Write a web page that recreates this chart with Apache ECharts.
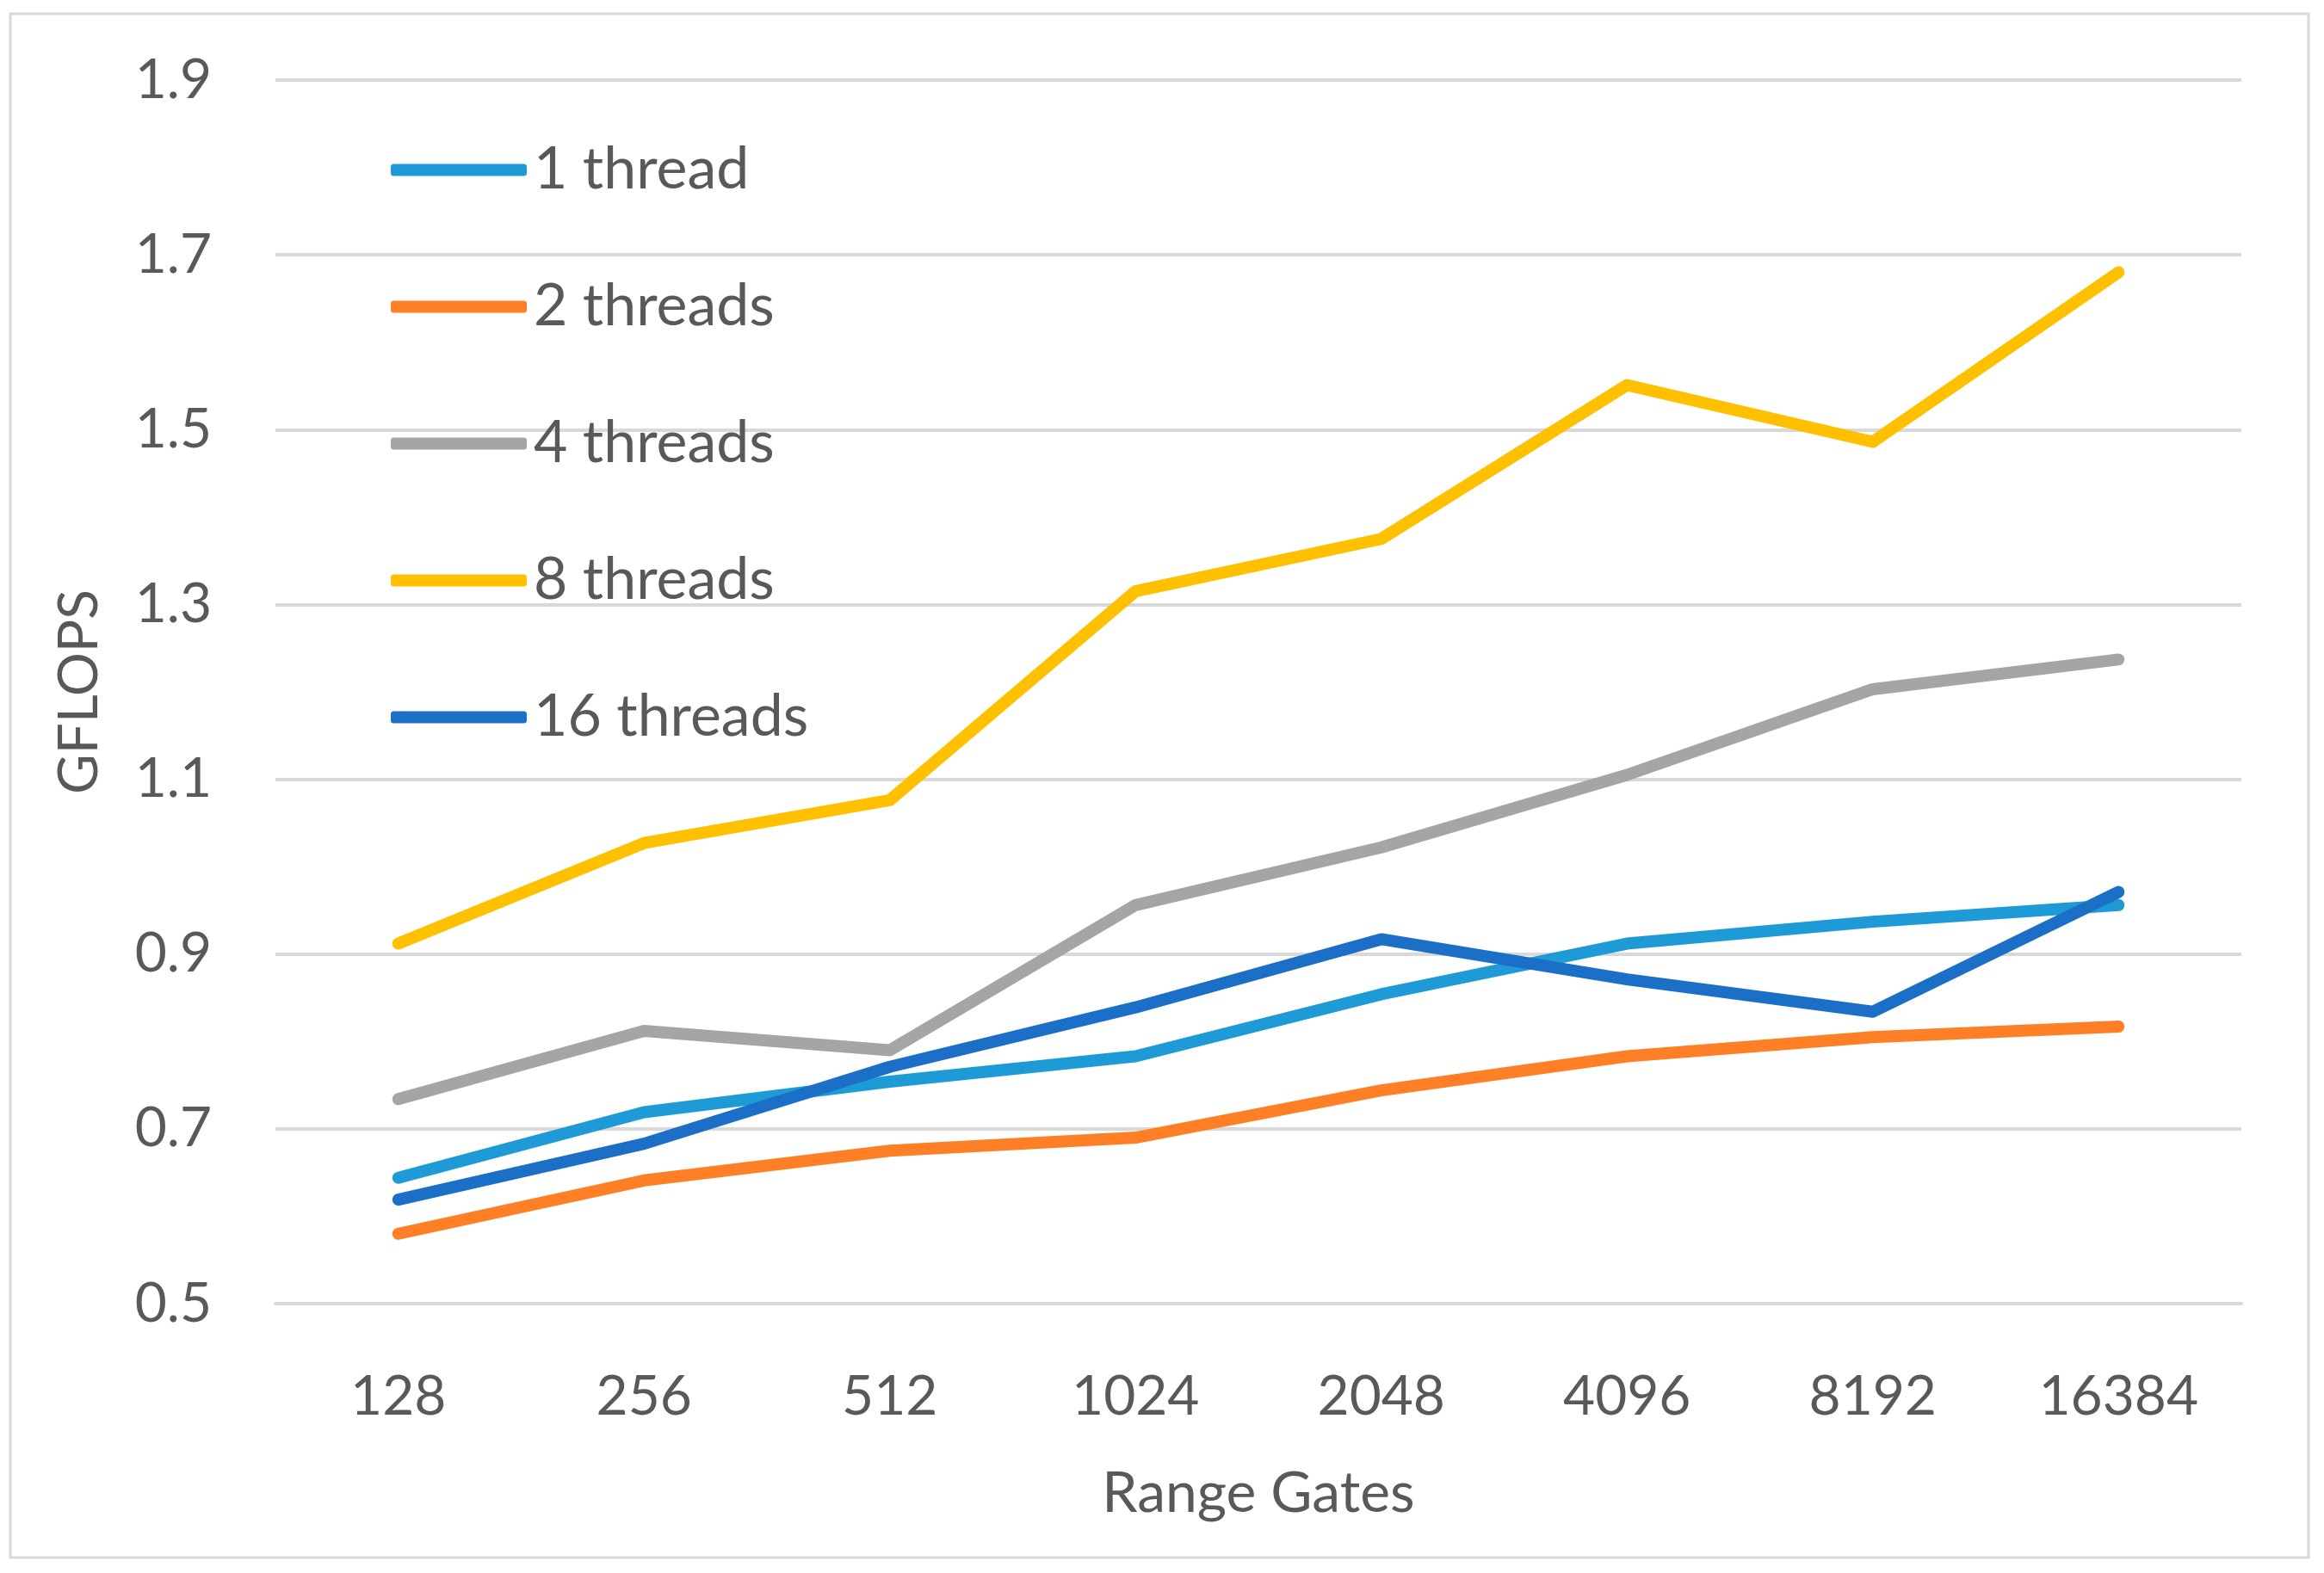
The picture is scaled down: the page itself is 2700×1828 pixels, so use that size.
<!DOCTYPE html>
<html>
<head>
<meta charset="utf-8">
<script src="https://cdn.jsdelivr.net/npm/echarts@6/dist/echarts.min.js"></script>
<style>
  html, body { margin: 0; padding: 0; background: #ffffff; }
  #chart { width: 2700px; height: 1828px; }
</style>
</head>
<body>
<div id="chart"></div>
<script>
const categories = ['128', '256', '512', '1024', '2048', '4096', '8192', '16384'];
const seriesNames = ['1 thread', '2 threads', '4 threads', '8 threads', '16 threads'];
const thread1  = [0.644, 0.719, 0.754, 0.783, 0.854, 0.912, 0.937, 0.956];
const thread2  = [0.580, 0.641, 0.675, 0.690, 0.744, 0.783, 0.805, 0.817];
const thread4  = [0.734, 0.812, 0.790, 0.956, 1.022, 1.105, 1.203, 1.237];
const thread8  = [0.912, 1.027, 1.076, 1.315, 1.375, 1.551, 1.486, 1.680];
const thread16 = [0.619, 0.683, 0.771, 0.839, 0.917, 0.871, 0.834, 0.971];
const yTicks = [0.5, 0.7, 0.9, 1.1, 1.3, 1.5, 1.7, 1.9];

const colors = ['#1E9BD7', '#FF7F27', '#A5A5A5', '#FFC000', '#1C6FC6'];
const allData = [thread1, thread2, thread4, thread8, thread16];
const FONT = 'Lato';
const TEXT = '#595959';

const chart = echarts.init(document.getElementById('chart'));
chart.setOption({
  backgroundColor: '#ffffff',
  animation: false,
  graphic: [{
    type: 'rect',
    shape: { x: 12, y: 16, width: 2670, height: 1794 },
    style: { fill: 'none', stroke: '#D9D9D9', lineWidth: 3 },
    silent: true
  }],
  grid: { left: 320, right: 96, top: 93, bottom: 313, containLabel: false },
  legend: {
    orient: 'vertical',
    left: 449,
    top: 157,
    icon: 'roundRect',
    itemWidth: 158,
    itemHeight: 14,
    itemGap: 88,
    data: seriesNames,
    textStyle: { fontFamily: FONT, fontSize: 68, color: TEXT, lineHeight: 71, padding: [0, 0, 0, 3] }
  },
  xAxis: {
    type: 'category',
    data: categories,
    boundaryGap: true,
    name: 'Range Gates',
    nameLocation: 'middle',
    nameGap: 188,
    nameTextStyle: { fontFamily: FONT, fontSize: 66, color: TEXT },
    axisLine: { show: true, lineStyle: { color: '#D9D9D9', width: 4 } },
    axisTick: { show: false },
    axisLabel: { fontFamily: FONT, fontSize: 64, color: TEXT, margin: 76 }
  },
  yAxis: {
    type: 'value',
    min: yTicks[0],
    max: yTicks[yTicks.length - 1],
    interval: 0.2,
    name: 'GFLOPS',
    nameLocation: 'middle',
    nameGap: 196,
    nameRotate: 90,
    nameTextStyle: { fontFamily: FONT, fontSize: 64, color: TEXT },
    axisLine: { show: false },
    axisTick: { show: false },
    splitLine: { show: true, lineStyle: { color: '#D9D9D9', width: 4 } },
    axisLabel: {
      fontFamily: FONT, fontSize: 64, color: TEXT, margin: 74,
      formatter: v => v.toFixed(1)
    }
  },
  series: seriesNames.map((name, i) => ({
    name: name,
    type: 'line',
    data: allData[i],
    symbol: 'none',
    showSymbol: false,
    color: colors[i],
    lineStyle: { color: colors[i], width: 14, cap: 'round', join: 'round' },
    z: 2 + i
  }))
});
</script>
</body>
</html>
